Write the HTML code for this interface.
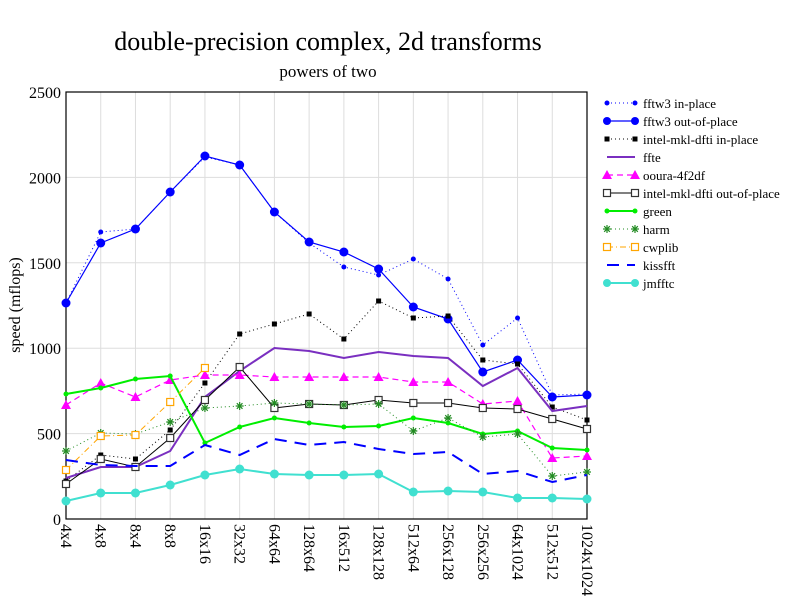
<!DOCTYPE html>
<html><head><meta charset="utf-8"><style>
body{margin:0;background:#fff;}
svg{display:block;font-family:"Liberation Serif",serif;}
</style></head><body>
<svg id="s" width="792" height="612" xmlns="http://www.w3.org/2000/svg">
<rect width="792" height="612" fill="#fff"/>
<text x="328" y="50" font-size="26" text-anchor="middle">double-precision complex, 2d transforms</text>
<text x="328" y="77" font-size="17" text-anchor="middle">powers of two</text>
<text transform="translate(20,305) rotate(-90)" font-size="16" text-anchor="middle">speed (mflops)</text>
<g id="grid"></g><g id="series"></g><g id="leg"></g>
</svg>
<script>
const NS="http://www.w3.org/2000/svg";
const s=document.getElementById('s');
function el(t,a,p){const e=document.createElementNS(NS,t);for(const k in a)e.setAttribute(k,a[k]);(p||s).appendChild(e);return e;}
const X0=66,X1=587,Y0=519,Y1=92;
const xs=i=>X0+(X1-X0)/15*i;
const g=document.getElementById('grid');
const labels=["4x4","4x8","8x4","8x8","16x16","32x32","64x64","128x64","16x512","128x128","512x64","256x128","256x256","64x1024","512x512","1024x1024"];
for(let k=0;k<=5;k++){const y=Y0-(Y0-Y1)*k/5;
 el('line',{x1:X0,x2:X1,y1:y,y2:y,stroke:'#ddd','stroke-width':1},g);
 const t=el('text',{x:61,y:y+6,'font-size':16,'text-anchor':'end'},g);t.textContent=k*500;}
labels.forEach((l,i)=>{const x=xs(i);
 el('line',{x1:x,x2:x,y1:Y1,y2:Y0,stroke:'#ddd','stroke-width':1},g);
 const t=el('text',{transform:`translate(${x-5},${Y0+5}) rotate(90)`,'font-size':16},g);t.textContent=l;});
el('rect',{x:X0,y:Y1,width:X1-X0,height:Y0-Y1,fill:'none',stroke:'#000','stroke-width':1.2},g);
const S=[
 {n:"fftw3 in-place",c:"#0000ff",w:1,d:"1,3",m:"dot",r:2.5,y:[303,232,229,192,157,165,212,243,267,275,259,279,345,318,395,394]},
 {n:"fftw3 out-of-place",c:"#0000ff",w:1.2,d:"",m:"dot",r:4.5,y:[303,243,229,192,156,165,212,242,252,269,307,319,372,360,397,395]},
 {n:"intel-mkl-dfti in-place",c:"#000",w:1,d:"1,3",m:"sq",r:2.5,y:[481,455,459,430,383,334,324,314,339,301,318,316,360,364,407,420]},
 {n:"ffte",c:"#7a2fc0",w:2,d:"",m:"",y:[478,467,467,451,397,371,348,351,358,352,356,358,386,368,411,406]},
 {n:"ooura-4f2df",c:"#ff00ff",w:1.2,d:"6,4",m:"tri",r:5,y:[405,383,397,380,375,375,377,377,377,377,382,382,404,401,458,456]},
 {n:"intel-mkl-dfti out-of-place",c:"#000",w:1,d:"",m:"osq",r:4,y:[484,459,467,438,400,367,408,404,405,400,403,403,408,409,419,429]},
 {n:"green",c:"#00ee00",w:2,d:"",m:"dot",r:2.5,y:[394,388,379,376,443,427,418,423,427,426,418,423,434,431,448,450]},
 {n:"harm",c:"#228b22",w:1,d:"1,3",m:"star",r:4,y:[451,433,434,422,408,406,403,404,405,404,431,418,437,434,476,472]},
 {n:"cwplib",c:"#ffa500",w:1,d:"6,3,1,3",m:"osq",r:4,y:[470,436,435,402,368]},
 {n:"kissfft",c:"#0000ff",w:2,d:"12,8",m:"",y:[460,465,466,466,445,455,439,445,442,449,454,452,474,471,482,475]},
 {n:"jmfftc",c:"#40e0d0",w:2,d:"",m:"dot",r:4.5,y:[501,493,493,485,475,469,474,475,475,474,492,491,492,498,498,499]}
];
const sg=document.getElementById('series'),lg=document.getElementById('leg');
function mark(p,x,y,o){
 if(o.m=='dot')el('circle',{cx:x,cy:y,r:o.r,fill:o.c},p);
 else if(o.m=='sq')el('rect',{x:x-2.5,y:y-2.5,width:5,height:5,fill:o.c},p);
 else if(o.m=='osq')el('rect',{x:x-3.5,y:y-3.5,width:7,height:7,fill:'#fff',stroke:o.c=='#000'?'#333':o.c,'stroke-width':1.2},p);
 else if(o.m=='tri')el('polygon',{points:`${x},${y-5} ${x-5},${y+4} ${x+5},${y+4}`,fill:o.c},p);
 else if(o.m=='star'){for(let a=0;a<4;a++){const t=a*Math.PI/4;el('line',{x1:x-4*Math.cos(t),y1:y-4*Math.sin(t),x2:x+4*Math.cos(t),y2:y+4*Math.sin(t),stroke:o.c,'stroke-width':1.2},p);}}
}
S.forEach((o,k)=>{
 const pts=o.y.map((y,i)=>xs(i)+","+y).join(" ");
 el('polyline',{points:pts,fill:'none',stroke:o.c,'stroke-width':o.w,'stroke-dasharray':o.d},sg);
 o.y.forEach((y,i)=>mark(sg,xs(i),y,o));
 const ly=103+18*k;
 el('line',{x1:607,x2:635,y1:ly,y2:ly,stroke:o.c,'stroke-width':o.w,'stroke-dasharray':o.d},lg);
 if(o.m){const oo=Object.assign({},o);if(oo.r>3)oo.r=4;mark(lg,607,ly,oo);mark(lg,635,ly,oo);}
 const t=el('text',{x:643,y:ly+5,'font-size':13},lg);t.textContent=o.n;
});
</script>
</body></html>
